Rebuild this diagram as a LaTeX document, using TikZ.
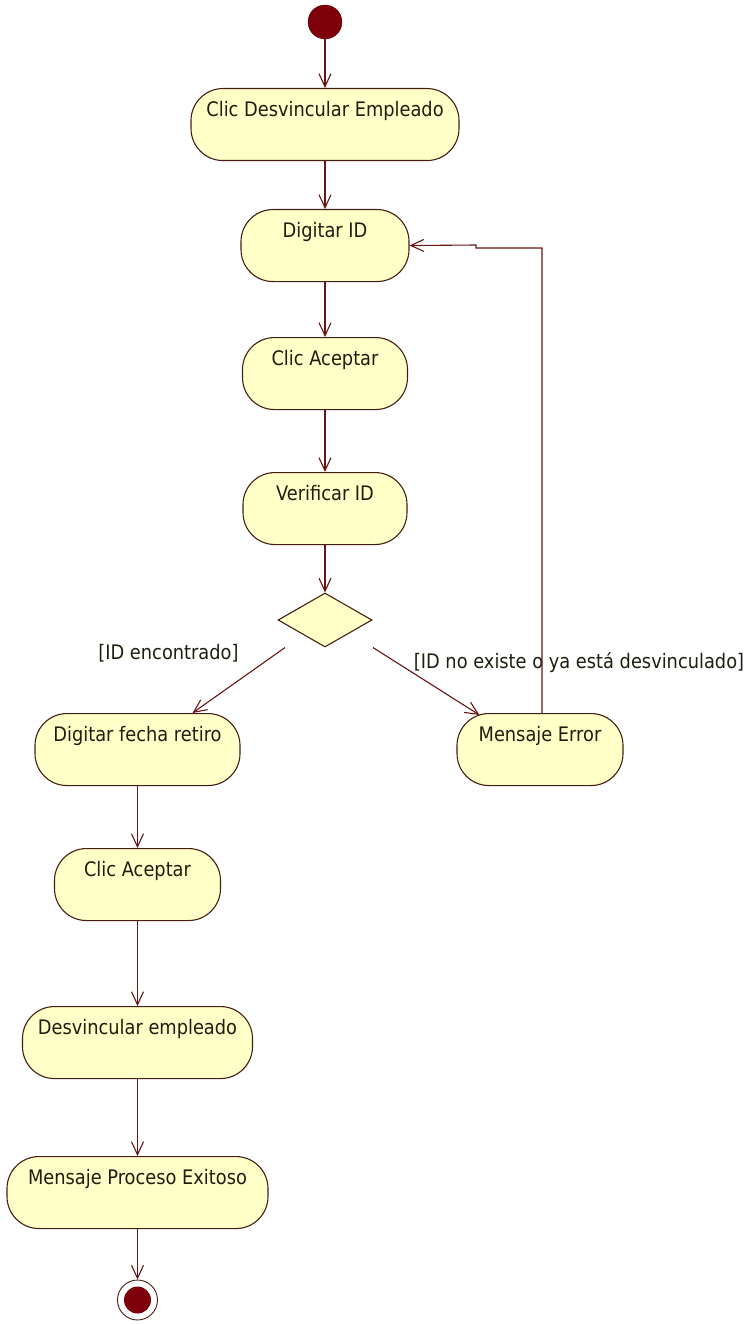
\documentclass[tikz,border=0pt]{standalone}
\usepackage{fontspec}
\setmainfont{DejaVu Sans}[FakeStretch=0.89]
\usetikzlibrary{arrows.meta,shapes.geometric,calc}
\definecolor{linecol}{RGB}{105,20,20}
\definecolor{bordercol}{RGB}{70,30,20}
\definecolor{boxfill}{RGB}{255,255,200}
\definecolor{dotred}{RGB}{125,0,10}
\definecolor{txtcol}{RGB}{30,30,15}
\tikzset{
  actbox/.style={draw=bordercol, fill=boxfill, line width=1.1pt, rounded corners=32pt,
    minimum height=72pt, inner sep=0pt, text height=28pt, text depth=44pt,
    anchor=north, font=\fontsize{20}{24}\selectfont, text=txtcol},
  decbox/.style={draw=bordercol, fill=boxfill, line width=1.1pt, shape=diamond,
    minimum width=94pt, minimum height=54pt, inner sep=0pt},
  guard/.style={font=\fontsize{20}{24}\selectfont, text=txtcol, inner sep=0pt},
  arr/.style={draw=linecol, line width=1.1pt, -{Straight Barb[length=13pt,width=12pt,line width=1.1pt]}},
}
\begin{document}
\begin{tikzpicture}[x=1pt,y=-1pt]
\useasboundingbox (0,0) rectangle (747,1324);

\node[circle, fill=dotred, draw=dotred!70!black, minimum size=34pt, inner sep=0pt] (init) at (325,22) {};
\node[actbox, minimum width=268pt] (b1) at (325,88) {Clic Desvincular Empleado};
\node[actbox, minimum width=168pt] (digid) at (325,209) {Digitar ID};
\node[actbox, minimum width=165pt] (acep1) at (325,337) {Clic Aceptar};
\node[actbox, minimum width=164pt] (verif) at (325,472) {Verificar ID};
\node[decbox] (dec) at (325,620) {};
\node[actbox, minimum width=205pt] (fecha) at (137.5,713) {Digitar fecha retiro};
\node[actbox, minimum width=166pt] (err) at (540,713) {Mensaje Error};
\node[actbox, minimum width=166pt] (acep2) at (137.5,848) {Clic Aceptar};
\node[actbox, minimum width=230pt] (desv) at (137.5,1006) {Desvincular empleado};
\node[actbox, minimum width=261pt] (msg) at (137.5,1156) {Mensaje Proceso Exitoso};
\node[circle, draw=bordercol, fill=white, line width=0.9pt, minimum size=40pt, inner sep=0pt] (final) at (137.5,1300) {};
\node[circle, fill=dotred, minimum size=27pt, inner sep=0pt] (finaldot) at (final) {};

\node[guard] (g1) at (168.5,653) {[ID encontrado]};
\node[guard] (g2) at (579,663) {[ID no existe o ya está desvinculado]};

\coordinate (dl) at ($(dec.south)+(-40,0)$);
\coordinate (dr) at ($(dec.south)+(48,0)$);
\coordinate (lp1) at (542,248);
\coordinate (lp2) at (476,248);
\coordinate (lp3) at (476,245);

\draw[arr] (init) -- (b1.north);
\draw[arr] (b1.south) -- (digid.north);
\draw[arr] (digid.south) -- (acep1.north);
\draw[arr] (acep1.south) -- (verif.north);
\draw[arr] (verif.south) -- (dec.north);
\draw[arr] (dl) -- ($(fecha.north)+(55,0)$);
\draw[arr] (dr) -- ($(err.north west)+(23,2)$);
\draw[arr] ($(err.north)+(2,0)$) -- (lp1) -- (lp2) -- (lp3) -- (digid.east);
\draw[arr] (fecha.south) -- (acep2.north);
\draw[arr] (acep2.south) -- (desv.north);
\draw[arr] (desv.south) -- (msg.north);
\draw[arr] (msg.south) -- (final.north);
\end{tikzpicture}
\end{document}
